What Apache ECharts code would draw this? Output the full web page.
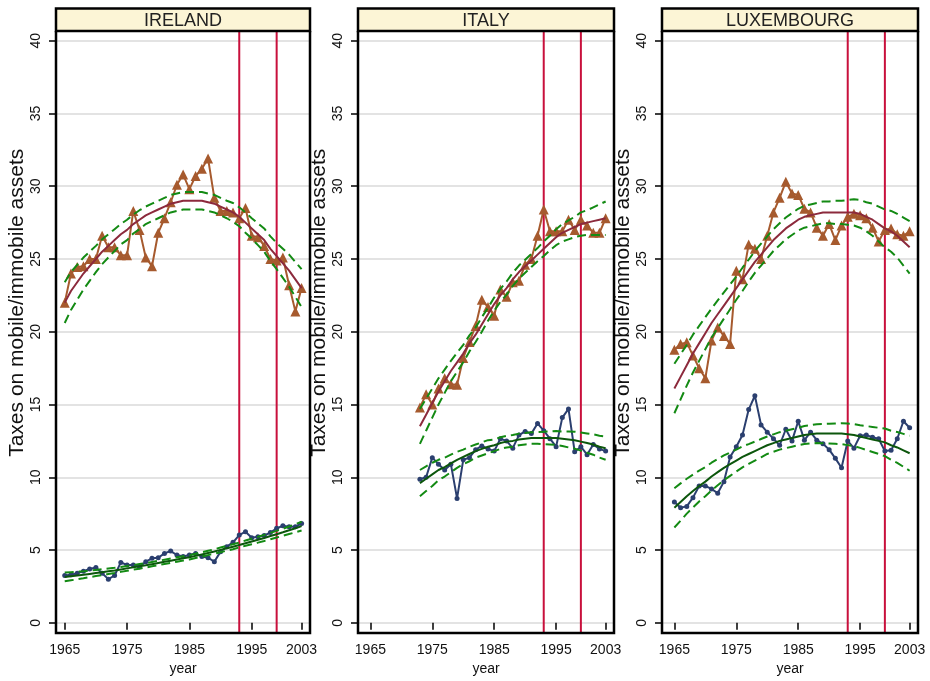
<!DOCTYPE html>
<html><head><meta charset="utf-8">
<script src="https://cdn.jsdelivr.net/npm/echarts@6/dist/echarts.min.js"></script>
<style>html,body{margin:0;padding:0;background:#fff}#c{width:930px;height:681px}</style>
</head><body><div id="c"></div>
<script>
// ---------- categories / ticks ----------
const yearsFull = [1965,1966,1967,1968,1969,1970,1971,1972,1973,1974,1975,1976,1977,1978,1979,1980,1981,1982,1983,1984,1985,1986,1987,1988,1989,1990,1991,1992,1993,1994,1995,1996,1997,1998,1999,2000,2001,2002,2003];
const yearsItaly = [1973,1974,1975,1976,1977,1978,1979,1980,1981,1982,1983,1984,1985,1986,1987,1988,1989,1990,1991,1992,1993,1994,1995,1996,1997,1998,1999,2000,2001,2002,2003];
const panelNames = ['IRELAND','ITALY','LUXEMBOURG'];
const xTickYears = [1965,1975,1985,1995,2003];
const breakYears = [1993,1999];
const yTitle = 'Taxes on mobile/immobile assets';
const xTitle = 'year';

// ---------- IRELAND ----------
const ieTri = [22.0,24.0,24.45,24.5,25.0,25.0,26.6,25.8,25.8,25.25,25.25,28.3,27.0,25.1,24.5,26.8,27.8,28.9,30.1,30.8,29.8,30.7,31.2,31.9,29.2,28.3,28.3,28.2,27.8,28.5,26.6,26.5,25.9,25.0,24.9,25.1,23.2,21.4,23.0];
const ieTriFit = [22.0,22.8,23.4,24.0,24.5,25.0,25.5,25.9,26.3,26.7,27.0,27.4,27.7,28.0,28.2,28.4,28.6,28.8,28.9,29.0,29.0,29.0,29.0,28.9,28.8,28.6,28.4,28.2,27.9,27.5,27.1,26.7,26.3,25.7,25.2,24.7,24.2,23.6,23.0];
const ieTriHi = [23.4,24.1,24.6,25.1,25.5,25.9,26.35,26.7,27.05,27.4,27.7,28.05,28.35,28.6,28.8,29.0,29.2,29.4,29.5,29.6,29.6,29.6,29.6,29.5,29.4,29.2,29.0,28.85,28.55,28.2,27.8,27.45,27.1,26.55,26.1,25.7,25.3,24.8,24.3];
const ieTriLo = [20.6,21.5,22.2,22.9,23.5,24.1,24.65,25.1,25.55,26.0,26.3,26.75,27.05,27.4,27.6,27.8,28.0,28.2,28.3,28.4,28.4,28.4,28.4,28.3,28.2,28.0,27.8,27.55,27.25,26.8,26.4,25.95,25.5,24.85,24.3,23.7,23.1,22.4,21.7];
const ieDot = [3.25,3.3,3.4,3.55,3.7,3.8,3.4,3.0,3.25,4.15,3.97,3.97,3.85,4.2,4.43,4.47,4.77,4.93,4.66,4.55,4.66,4.77,4.55,4.47,4.2,4.89,5.23,5.53,6.03,6.26,5.85,5.92,6.0,6.2,6.49,6.67,6.6,6.6,6.83];
const ieDotFit = [3.15,3.2,3.25,3.3,3.36,3.42,3.48,3.54,3.6,3.67,3.74,3.81,3.88,3.95,4.03,4.11,4.19,4.27,4.35,4.43,4.5,4.6,4.7,4.8,4.9,5.01,5.12,5.23,5.35,5.47,5.59,5.71,5.83,5.96,6.09,6.22,6.36,6.5,6.64];
const ieDotHi = [3.45,3.48,3.51,3.54,3.58,3.63,3.68,3.73,3.78,3.84,3.91,3.97,4.04,4.1,4.18,4.26,4.34,4.42,4.5,4.58,4.65,4.75,4.85,4.95,5.05,5.17,5.28,5.4,5.52,5.65,5.78,5.91,6.04,6.18,6.32,6.46,6.62,6.78,6.94];
const ieDotLo = [2.85,2.92,2.99,3.06,3.14,3.21,3.28,3.35,3.42,3.5,3.57,3.65,3.72,3.8,3.88,3.96,4.04,4.12,4.2,4.28,4.35,4.45,4.55,4.65,4.75,4.85,4.96,5.06,5.18,5.29,5.4,5.51,5.62,5.74,5.86,5.98,6.1,6.22,6.34];

// ---------- ITALY ----------
const itTri = [14.8,15.7,15.0,16.1,16.8,16.4,16.35,18.2,19.3,20.4,22.2,21.7,21.1,22.9,22.4,23.4,23.5,24.6,25.0,26.6,28.4,26.9,26.9,26.9,27.7,27.0,27.7,27.3,26.8,26.8,27.8];
const itTriFit = [13.5,14.3,15.1,15.9,16.6,17.3,17.9,18.5,19.2,19.8,20.5,21.2,21.9,22.5,23.0,23.6,24.1,24.5,24.9,25.3,25.7,26.1,26.5,26.8,27.0,27.2,27.4,27.5,27.6,27.7,27.8];
const itTriHi = [14.7,15.4,16.1,16.8,17.4,18.0,18.55,19.1,19.75,20.3,21.0,21.65,22.35,22.95,23.45,24.05,24.55,24.95,25.35,25.75,26.2,26.6,27.05,27.4,27.65,27.9,28.2,28.35,28.55,28.75,28.95];
const itTriLo = [12.3,13.2,14.1,15.0,15.8,16.6,17.25,17.9,18.65,19.3,20.0,20.75,21.45,22.05,22.55,23.15,23.65,24.05,24.45,24.85,25.2,25.6,25.95,26.2,26.35,26.5,26.6,26.65,26.65,26.65,26.65];
const itDot = [9.86,10.0,11.35,10.9,10.5,10.9,8.55,11.2,11.35,11.9,12.15,11.95,11.8,12.65,12.5,12.0,12.9,13.15,13.0,13.7,13.2,12.65,12.1,14.1,14.7,11.75,12.1,11.55,12.25,11.95,11.8];
const itDotFit = [9.6,9.9,10.2,10.5,10.7,10.95,11.2,11.4,11.6,11.8,11.95,12.1,12.2,12.35,12.45,12.5,12.6,12.65,12.7,12.7,12.7,12.7,12.7,12.65,12.6,12.55,12.45,12.35,12.25,12.1,12.0];
const itDotHi = [10.5,10.75,11.0,11.2,11.35,11.55,11.75,11.9,12.1,12.25,12.4,12.55,12.6,12.75,12.85,12.9,13.0,13.05,13.1,13.1,13.12,13.15,13.18,13.15,13.15,13.13,13.07,13.01,12.95,12.85,12.8];
const itDotLo = [8.7,9.05,9.4,9.8,10.05,10.35,10.65,10.9,11.1,11.35,11.5,11.65,11.8,11.95,12.05,12.1,12.2,12.25,12.3,12.3,12.28,12.25,12.22,12.15,12.05,11.97,11.83,11.69,11.55,11.35,11.2];

// ---------- LUXEMBOURG ----------
const luTri = [18.77,19.16,19.27,18.36,17.49,16.8,19.4,20.3,19.7,19.16,24.2,23.6,26.0,25.7,25.0,26.6,28.2,29.2,30.3,29.5,29.4,28.45,28.2,27.15,26.6,27.4,26.3,27.3,27.9,28.1,28.0,27.8,27.15,26.2,27.0,27.1,26.7,26.6,26.9];
const luTriFit = [16.1,16.9,17.7,18.5,19.2,19.9,20.6,21.2,21.8,22.4,23.0,23.6,24.2,24.8,25.3,25.8,26.3,26.7,27.1,27.4,27.7,27.9,28.0,28.1,28.2,28.2,28.2,28.2,28.2,28.2,28.1,27.9,27.7,27.4,27.1,26.9,26.6,26.2,25.8];
const luTriHi = [17.8,18.45,19.1,19.8,20.4,21.0,21.6,22.15,22.7,23.25,23.8,24.4,24.95,25.55,26.05,26.55,27.05,27.45,27.85,28.15,28.45,28.65,28.75,28.85,28.95,28.95,29.0,29.0,29.05,29.1,29.05,28.9,28.8,28.6,28.4,28.3,28.1,27.85,27.6];
const luTriLo = [14.4,15.35,16.3,17.2,18.0,18.8,19.6,20.25,20.9,21.55,22.2,22.8,23.45,24.05,24.55,25.05,25.55,25.95,26.35,26.65,26.95,27.15,27.25,27.35,27.45,27.45,27.4,27.4,27.35,27.3,27.15,26.9,26.6,26.2,25.8,25.5,25.1,24.55,24.0];
const luDot = [8.3,7.9,8.0,8.6,9.4,9.4,9.2,8.9,9.7,11.4,12.1,12.9,14.65,15.6,13.6,13.1,12.65,12.2,13.3,12.5,13.85,12.55,13.1,12.55,12.3,11.9,11.3,10.65,12.5,12.0,12.85,12.9,12.75,12.65,11.8,11.85,12.65,13.85,13.4];
const luDotFit = [7.9,8.3,8.7,9.05,9.4,9.7,10.05,10.35,10.65,10.9,11.15,11.4,11.6,11.8,12.0,12.2,12.35,12.5,12.6,12.7,12.8,12.9,12.95,13.0,13.0,13.0,13.0,13.0,12.95,12.9,12.8,12.7,12.6,12.5,12.4,12.2,12.05,11.85,11.65];
const luDotHi = [9.25,9.58,9.9,10.18,10.46,10.7,11.0,11.25,11.5,11.7,11.9,12.12,12.28,12.45,12.63,12.8,12.95,13.1,13.2,13.3,13.4,13.52,13.58,13.65,13.66,13.68,13.7,13.72,13.69,13.66,13.58,13.52,13.46,13.4,13.35,13.2,13.11,12.98,12.85];
const luDotLo = [6.55,7.02,7.5,7.92,8.34,8.7,9.1,9.45,9.8,10.1,10.4,10.68,10.92,11.15,11.37,11.6,11.75,11.9,12.0,12.1,12.2,12.28,12.32,12.35,12.34,12.32,12.3,12.28,12.21,12.14,12.02,11.88,11.74,11.6,11.45,11.2,10.99,10.72,10.45];

// ---------- assembly ----------
const panelData = [
  {years: yearsFull, tri: ieTri, triFit: ieTriFit, triHi: ieTriHi, triLo: ieTriLo, dot: ieDot, dotFit: ieDotFit, dotHi: ieDotHi, dotLo: ieDotLo},
  {years: yearsItaly, tri: itTri, triFit: itTriFit, triHi: itTriHi, triLo: itTriLo, dot: itDot, dotFit: itDotFit, dotHi: itDotHi, dotLo: itDotLo},
  {years: yearsFull, tri: luTri, triFit: luTriFit, triHi: luTriHi, triLo: luTriLo, dot: luDot, dotFit: luDotFit, dotHi: luDotHi, dotLo: luDotLo}
];

const FONT = "'Liberation Sans', Arial, Helvetica, sans-serif";
const layout = [
  {left: 56, right: 310, xmin: 1963.6},
  {left: 358, right: 614, xmin: 1963.0},
  {left: 662, right: 918, xmin: 1963.0}
];
const FRAME_TOP = 31, FRAME_BOTTOM = 633, HEAD_TOP = 8.5;
const GRID_TOP = 40.7, GRID_BOTTOM = 624.7;
const C = {
  tri: '#a65a2e', triFit: '#8c2a3c', dot: '#2b3f6f', dotFit: '#0c560c', ci: '#138a13', vline: '#c8103c', head: '#fcf5d6'
};

const pair = (yrs, vals) => yrs.map((y, i) => [y, vals[i]]);

const grids = [], xAxes = [], yAxes = [], series = [], graphics = [];
layout.forEach((p, i) => {
  const d = panelData[i];
  grids.push({left: p.left, top: GRID_TOP, width: p.right - p.left, height: GRID_BOTTOM - GRID_TOP});
  xAxes.push({
    gridIndex: i, type: 'value', min: p.xmin, max: 2004.35, offset: FRAME_BOTTOM - GRID_BOTTOM,
    axisLine: {show: false},
    axisTick: {show: true, length: 7, lineStyle: {color: '#000', width: 1.5}, customValues: xTickYears},
    axisLabel: {customValues: xTickYears, formatter: v => String(v), fontSize: 14, color: '#111', fontFamily: FONT, margin: 12},
    splitLine: {show: false},
    name: xTitle, nameLocation: 'middle', nameGap: 29,
    nameTextStyle: {fontSize: 14, color: '#111', fontFamily: FONT}
  });
  yAxes.push({
    gridIndex: i, type: 'value', min: 0, max: 40, interval: 5,
    axisLine: {show: false},
    axisTick: {show: true, length: 7, lineStyle: {color: '#000', width: 1.5}},
    axisLabel: {rotate: 90, fontSize: 14, color: '#111', fontFamily: FONT, margin: 13},
    splitLine: {show: true, lineStyle: {color: '#dadada', width: 1.5}},
    name: yTitle, nameLocation: 'middle', nameGap: 27, nameRotate: 90,
    nameTextStyle: {fontSize: 21, color: '#111', fontFamily: FONT, padding: [0, 0, 0, 58]}
  });
  const base = {xAxisIndex: i, yAxisIndex: i, animation: false, silent: true};
  series.push(Object.assign({
    type: 'custom', z: 1, clip: false,
    data: breakYears.map(y => [y, 0]),
    renderItem: (params, api) => {
      const x = api.coord([api.value(0), 0])[0];
      return {type: 'line', shape: {x1: x, y1: FRAME_TOP, x2: x, y2: FRAME_BOTTOM}, style: {stroke: C.vline, lineWidth: 2}};
    }
  }, base));
  series.push(Object.assign({type: 'line', z: 3, data: pair(d.years, d.dot), symbol: 'circle', symbolSize: 5, itemStyle: {color: C.dot}, lineStyle: {color: C.dot, width: 2}}, base));
  series.push(Object.assign({type: 'line', z: 3, data: pair(d.years, d.tri), symbol: 'triangle', symbolSize: 10, itemStyle: {color: C.tri}, lineStyle: {color: C.tri, width: 2}}, base));
  series.push(Object.assign({type: 'line', z: 4, data: pair(d.years, d.triFit), symbol: 'none', lineStyle: {color: C.triFit, width: 2}}, base));
  series.push(Object.assign({type: 'line', z: 4, data: pair(d.years, d.triHi), symbol: 'none', lineStyle: {color: C.ci, width: 2, type: [9, 5]}}, base));
  series.push(Object.assign({type: 'line', z: 4, data: pair(d.years, d.triLo), symbol: 'none', lineStyle: {color: C.ci, width: 2, type: [9, 5]}}, base));
  series.push(Object.assign({type: 'line', z: 4, data: pair(d.years, d.dotFit), symbol: 'none', lineStyle: {color: C.dotFit, width: 2}}, base));
  series.push(Object.assign({type: 'line', z: 4, data: pair(d.years, d.dotHi), symbol: 'none', lineStyle: {color: C.ci, width: 2, type: [9, 5]}}, base));
  series.push(Object.assign({type: 'line', z: 4, data: pair(d.years, d.dotLo), symbol: 'none', lineStyle: {color: C.ci, width: 2, type: [9, 5]}}, base));

  graphics.push({
    type: 'polyline', z: 10, silent: true,
    shape: {points: [[p.left, FRAME_TOP], [p.left, FRAME_BOTTOM], [p.right, FRAME_BOTTOM], [p.right, FRAME_TOP]]},
    style: {stroke: '#000', lineWidth: 2.5, fill: null}
  });
  graphics.push({
    type: 'rect', z: 10, silent: true,
    shape: {x: p.left, y: HEAD_TOP, width: p.right - p.left, height: FRAME_TOP - HEAD_TOP},
    style: {fill: C.head, stroke: '#000', lineWidth: 2.5}
  });
  graphics.push({
    type: 'text', z: 11, silent: true,
    x: (p.left + p.right) / 2, y: (HEAD_TOP + FRAME_TOP) / 2 + 1,
    style: {text: panelNames[i], fontSize: 18, fontFamily: FONT, fill: '#222', align: 'center', verticalAlign: 'middle'}
  });
});

const chart = echarts.init(document.getElementById('c'), null, {renderer: 'canvas'});
chart.setOption({
  animation: false,
  backgroundColor: '#fff',
  grid: grids, xAxis: xAxes, yAxis: yAxes, series: series,
  graphic: {elements: graphics}
});
</script></body></html>
